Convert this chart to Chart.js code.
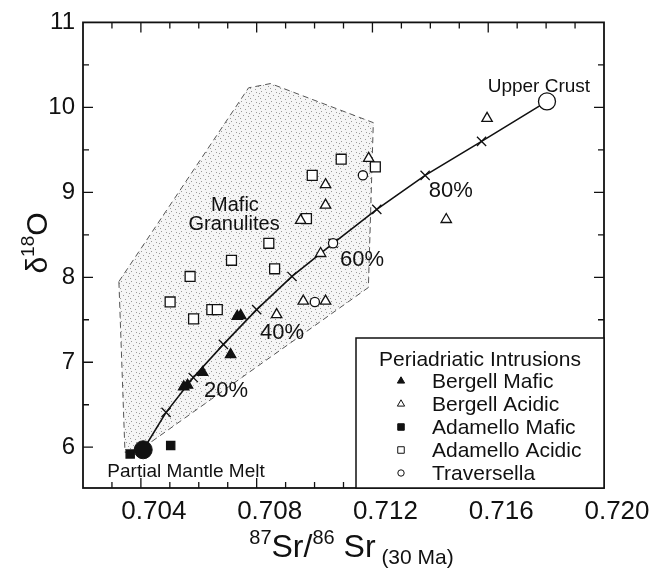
<!DOCTYPE html>
<html><head><meta charset="utf-8">
<script src="https://cdn.jsdelivr.net/npm/chart.js@4.4.0/dist/chart.umd.min.js"></script>
<style>html,body{margin:0;padding:0;background:#fff}</style>
</head><body>
<canvas id="c" width="661" height="575" style="width:661px;height:575px;display:block"></canvas>
<script>
// ---------- tick labels ----------
const xTickLabels = [0.704, 0.708, 0.712, 0.716, 0.720];
const yTickLabels = [6, 7, 8, 9, 10, 11];

// ---------- series (x = 87Sr/86Sr, y = d18O) ----------
const bergellMafic = [[0.70733,7.54],[0.70745,7.55],[0.70710,7.09],[0.70613,6.88],[0.70561,6.73],[0.70548,6.71]];
const bergellAcidic = [[0.71187,9.40],[0.71038,9.09],[0.71038,8.85],[0.70952,8.67],[0.71021,8.28],[0.70961,7.72],[0.71038,7.72],[0.70869,7.56],[0.71596,9.87],[0.71455,8.68]];
const adamelloMafic = [[0.70363,5.92],[0.70503,6.02]];
const adamelloAcidic = [[0.71092,9.39],[0.71210,9.30],[0.70992,9.20],[0.70972,8.69],[0.70842,8.40],[0.70713,8.20],[0.70862,8.10],[0.70570,8.01],[0.70501,7.71],[0.70645,7.62],[0.70664,7.62],[0.70582,7.51]];
const traversella = [[0.71167,9.20],[0.71001,7.71],[0.71064,8.40]];
const partialMantleMelt = [[0.70408,5.97]];
const upperCrust = [[0.71803,10.07]];
// mixing curve: mantle melt -> 10%..90% marks -> upper crust
const mixingCurve = [[0.70408,5.97],[0.70487,6.41],[0.70581,6.82],[0.70685,7.21],[0.70800,7.62],[0.70922,8.01],[0.71064,8.40],[0.71215,8.80],[0.71382,9.20],[0.71577,9.60],[0.71803,10.07]];
// mafic granulites field outline
const maficGranulitesField = [[0.70324,7.95],[0.70772,10.23],[0.70848,10.28],[0.71203,9.82],[0.71186,7.88],[0.70410,6.00],[0.70345,5.94],[0.70324,7.95]];

const legendTitle = 'Periadriatic Intrusions';
const annotations = [
  {text:'Upper Crust', x:0.71775, y:10.24, size:19},
  {text:'Mafic', x:0.70725, y:8.84, size:20},
  {text:'Granulites', x:0.70722, y:8.62, size:20},
  {text:'20%', x:0.70694, y:6.66, size:22},
  {text:'40%', x:0.70888, y:7.35, size:22},
  {text:'60%', x:0.71164, y:8.20, size:22},
  {text:'80%', x:0.71471, y:9.02, size:22},
  {text:'Partial Mantle Melt', x:0.70556, y:5.715, size:19}
];

const FONT = '"Liberation Sans", Arial, Helvetica, sans-serif';
const INK = '#111';
const pts = a => a.map(p => ({x:p[0], y:p[1]}));

function makeStipple(){
  const c = document.createElement('canvas'); c.width = 10; c.height = 10;
  const g = c.getContext('2d');
  g.fillStyle = '#f5f5f5'; g.fillRect(0,0,10,10);
  g.fillStyle = '#9a9a9a';
  [[1,1],[6,2],[3,5],[8,6],[0,8],[5,9],[9,3]].forEach(p => g.fillRect(p[0],p[1],1,1));
  return document.getElementById('c').getContext('2d').createPattern(c,'repeat');
}

function richText(ctx, parts, cx, baseY){
  let w = 0;
  parts.forEach(p => { ctx.font = p.size + 'px ' + FONT; p.w = ctx.measureText(p.t).width; w += p.w; });
  let x = cx - w/2;
  ctx.textAlign = 'left'; ctx.textBaseline = 'alphabetic';
  parts.forEach(p => { ctx.font = p.size + 'px ' + FONT; ctx.fillText(p.t, x, baseY + (p.dy||0)); x += p.w; });
}

const pointSets = [
  {label:'Bergell Mafic', data:bergellMafic, style:'triangle', r:6, fill:INK, lr:4.2},
  {label:'Bergell Acidic', data:bergellAcidic, style:'triangle', r:6, fill:'#fff', lr:4.2},
  {label:'Adamello Mafic', data:adamelloMafic, style:'rect', r:5.8, fill:INK, lr:4.6},
  {label:'Adamello Acidic', data:adamelloAcidic, style:'rect', r:7, fill:'#fff', lr:4.6},
  {label:'Traversella', data:traversella, style:'circle', r:4.6, fill:'#fff', lr:3.2}
];

const decor = {
  id:'decor',
  afterDraw(chart){
    const ctx = chart.ctx, a = chart.chartArea, xs = chart.scales.x, ys = chart.scales.y;
    ctx.save();
    ctx.strokeStyle = INK; ctx.fillStyle = INK;
    // ticks
    ctx.lineWidth = 1.3;
    ctx.beginPath();
    for (let v = 0.703; v < 0.7195; v += 0.001){
      const px = xs.getPixelForValue(v);
      const major = xTickLabels.some(t => Math.abs(t - v) < 1e-6);
      const L = major ? 10 : 6;
      ctx.moveTo(px, a.bottom); ctx.lineTo(px, a.bottom - L);
      ctx.moveTo(px, a.top); ctx.lineTo(px, a.top + L);
    }
    for (let v = 5.5; v < 11; v += 0.5){
      if (v < ys.min) continue;
      const py = ys.getPixelForValue(v);
      const major = yTickLabels.includes(v);
      const L = major ? 10 : 6;
      ctx.moveTo(a.left, py); ctx.lineTo(a.left + L, py);
      ctx.moveTo(a.right, py); ctx.lineTo(a.right - L, py);
    }
    ctx.stroke();
    // frame
    ctx.lineWidth = 1.8;
    ctx.strokeRect(a.left, a.top, a.right - a.left, a.bottom - a.top);

    // annotations
    ctx.textAlign = 'center'; ctx.textBaseline = 'middle';
    annotations.forEach(t => {
      ctx.font = t.size + 'px ' + FONT;
      ctx.fillText(t.text, xs.getPixelForValue(t.x), ys.getPixelForValue(t.y));
    });

    // legend box
    const bw = 248, bh = 150;
    const bx = a.right - bw, by = a.bottom - bh;
    ctx.fillStyle = '#fff';
    ctx.fillRect(bx, by, bw, bh);
    ctx.lineWidth = 1.5; ctx.strokeStyle = INK;
    ctx.strokeRect(bx, by, bw, bh);
    ctx.fillStyle = INK;
    ctx.font = '21px ' + FONT; ctx.textAlign = 'center'; ctx.textBaseline = 'middle';
    ctx.fillText(legendTitle, bx + 124, by + 22);
    ctx.textAlign = 'left';
    pointSets.forEach((s, i) => {
      const yy = by + 43 + i * 23;
      ctx.fillStyle = s.fill; ctx.strokeStyle = INK; ctx.lineWidth = 1;
      Chart.helpers.drawPoint(ctx, {pointStyle:s.style, radius:s.lr, rotation:0, borderWidth:1}, bx + 45, yy);
      ctx.fillStyle = INK;
      ctx.font = '21px ' + FONT;
      ctx.fillText(s.label, bx + 76, yy + 1);
    });

    // axis titles
    ctx.fillStyle = INK;
    richText(ctx, [
      {t:'87', size:20, dy:-13}, {t:'Sr/', size:32}, {t:'86', size:20, dy:-13}, {t:' Sr', size:32}, {t:' (30 Ma)', size:21, dy:7}
    ], (a.left + a.right)/2 + 8, 557);
    ctx.save();
    ctx.translate(47, 243); ctx.rotate(-Math.PI/2);
    richText(ctx, [{t:'\u03B4', size:30}, {t:'18', size:19, dy:-13}, {t:'O', size:30}], 0, 0);
    ctx.restore();
    ctx.restore();
  }
};

const datasets = [
  {label:'Mafic Granulites', data:pts(maficGranulitesField), showLine:true, fill:'shape',
   backgroundColor:makeStipple(), borderColor:'#555', borderWidth:1, borderDash:[6,4],
   pointRadius:0, tension:0, order:10},
  {label:'Mixing curve', data:pts(mixingCurve), showLine:true, fill:false, borderColor:INK, borderWidth:1.6,
   pointStyle:'crossRot', pointRadius:mixingCurve.map((p,i)=> (i===0||i===mixingCurve.length-1)?0:6.5),
   pointBorderColor:INK, pointBorderWidth:1.3, pointBackgroundColor:INK, tension:0, order:5},
  ...pointSets.map(s => ({label:s.label, data:pts(s.data), pointStyle:s.style, pointRadius:s.r,
    pointBackgroundColor:s.fill, pointBorderColor:INK, pointBorderWidth:1.3, order:2})),
  {label:'Partial Mantle Melt', data:pts(partialMantleMelt), pointStyle:'circle', pointRadius:9,
   pointBackgroundColor:INK, pointBorderColor:INK, pointBorderWidth:1, order:0},
  {label:'Upper Crust', data:pts(upperCrust), pointStyle:'circle', pointRadius:8.5,
   pointBackgroundColor:'#fff', pointBorderColor:INK, pointBorderWidth:1.3, order:0}
];

new Chart(document.getElementById('c'), {
  type:'scatter',
  data:{datasets},
  options:{
    responsive:false, animation:false, devicePixelRatio:1,
    layout:{padding:{left:0, right:57, top:18, bottom:0}},
    plugins:{legend:{display:false}, tooltip:{enabled:false}},
    scales:{
      x:{type:'linear', min:0.702, max:0.720,
        afterBuildTicks:s => { s.ticks = xTickLabels.map(v => ({value:v})); },
        afterFit:s => { s.height = 87; },
        grid:{display:false, drawTicks:false}, border:{display:false},
        ticks:{font:{family:FONT, size:26}, color:INK, padding:8, labelOffset:13, maxRotation:0, autoSkip:false,
          callback:v => Number(v).toFixed(3)}},
      y:{type:'linear', min:5.52, max:11,
        afterBuildTicks:s => { s.ticks = yTickLabels.map(v => ({value:v})); },
        afterFit:s => { s.width = 83; },
        grid:{display:false, drawTicks:false}, border:{display:false},
        ticks:{font:{family:FONT, size:24}, color:INK, padding:8, autoSkip:false,
          callback:v => String(v)}}
    }
  },
  plugins:[decor]
});
</script>
</body></html>
